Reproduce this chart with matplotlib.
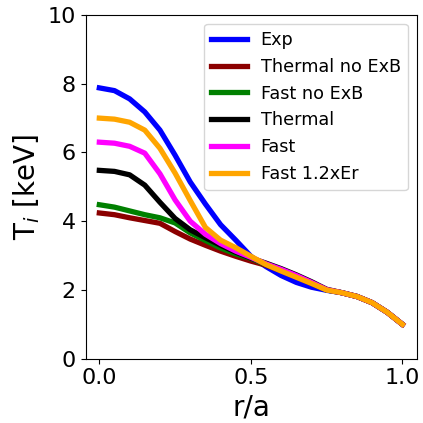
"""
Ion temperature profiles: experiment vs. simulation cases.
"""

import matplotlib
matplotlib.use("Agg")
import matplotlib.pyplot as plt

# ─── Data ──────────────────────────────────────────────────────────────────────

r_a = [0.0, 0.05, 0.10, 0.15, 0.20, 0.25, 0.30, 0.35, 0.40, 0.45, 0.50,
       0.55, 0.60, 0.65, 0.70, 0.75, 0.80, 0.85, 0.90, 0.95, 1.00]

# shared outer tail (r/a >= 0.8)
tail = [1.92, 1.81, 1.63, 1.35, 1.00]

ti_exp         = [7.88, 7.80, 7.56, 7.18, 6.65, 5.92, 5.14, 4.50, 3.90, 3.45, 2.98,
                  2.68, 2.42, 2.22, 2.08, 1.99] + tail
ti_thermal_nox = [4.24, 4.19, 4.10, 4.02, 3.94, 3.70, 3.48, 3.30, 3.13, 2.98, 2.84,
                  2.72, 2.56, 2.38, 2.19, 2.00] + tail
ti_fast_nox    = [4.48, 4.41, 4.30, 4.19, 4.10, 3.95, 3.66, 3.44, 3.22, 3.05, 2.92,
                  2.74, 2.57, 2.39, 2.20, 2.00] + tail
ti_thermal     = [5.48, 5.45, 5.35, 5.05, 4.55, 4.08, 3.75, 3.52, 3.30, 3.10, 2.93,
                  2.78, 2.62, 2.44, 2.24, 2.02] + tail
ti_fast        = [6.30, 6.27, 6.18, 5.98, 5.38, 4.62, 4.00, 3.62, 3.35, 3.13, 2.95,
                  2.76, 2.60, 2.42, 2.22, 2.01] + tail
ti_fast_12er   = [7.00, 6.97, 6.88, 6.65, 6.12, 5.40, 4.60, 3.82, 3.45, 3.23, 2.98,
                  2.74, 2.55, 2.37, 2.19, 2.00] + tail

labels = ["Exp", "Thermal no ExB", "Fast no ExB", "Thermal", "Fast", "Fast 1.2xEr"]
colors = ["blue", "darkred", "green", "black", "magenta", "orange"]
series = [ti_exp, ti_thermal_nox, ti_fast_nox, ti_thermal, ti_fast, ti_fast_12er]

# ─── Plot ──────────────────────────────────────────────────────────────────────

fig = plt.figure(figsize=(4.23, 4.23), dpi=100)
ax = fig.add_axes([0.2026, 0.152, 0.7824, 0.8125])

for ti, lab, col in zip(series, labels, colors):
    ax.plot(r_a, ti, color=col, lw=3.8, label=lab)

ax.set_xlim(-0.045, 1.047)
ax.set_ylim(0, 10)
ax.set_xticks([0.0, 0.5, 1.0])
ax.set_yticks([0, 2, 4, 6, 8, 10])
ax.tick_params(labelsize=16)
ax.set_xlabel("r/a", fontsize=20)
ax.set_ylabel("T$_i$ [keV]", fontsize=20)
ax.legend(loc="upper right", fontsize=12.7)

fig.savefig("out.png", dpi=100)
